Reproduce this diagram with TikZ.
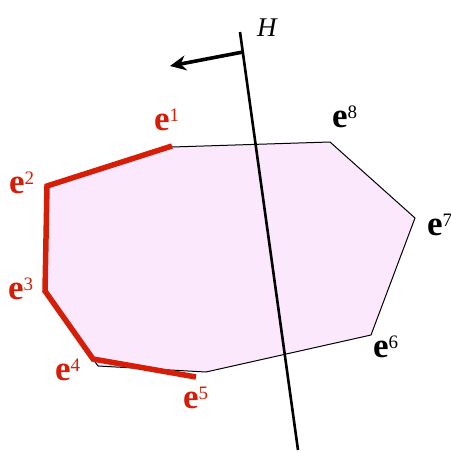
\documentclass[tikz,border=0pt]{standalone}
\usepackage{fontspec}
\setmainfont{Liberation Serif}
\usetikzlibrary{arrows.meta}

\definecolor{facepink}{RGB}{252,232,252}
\definecolor{edgered}{RGB}{212,30,8}

\newcommand{\evec}[1]{{\fontsize{35}{35}\selectfont\bfseries e}{\fontsize{19}{19}\selectfont\raisebox{9pt}{#1}}}

\begin{document}
\begin{tikzpicture}[x=1pt,y=-1pt,>=Stealth,
  lbl/.style={anchor=base west,inner sep=0pt,font=\rmfamily}]
  \useasboundingbox (0,0) rectangle (450,452);

  % Polygon corners
  \coordinate (e1) at (172,147);
  \coordinate (e8) at (330,142);
  \coordinate (e7) at (415,218);
  \coordinate (e6) at (371,335);
  \coordinate (e5) at (206,372);
  \coordinate (e4) at (98,366);
  \coordinate (e3) at (45,292);
  \coordinate (e2) at (46,188);

  % Red edge chain (drawn slightly outside)
  \coordinate (r1) at (172,146);
  \coordinate (r2) at (47,186);
  \coordinate (r3) at (45,291);
  \coordinate (r4) at (93,359);
  \coordinate (r5) at (196,377);

  % Hyperplane
  \coordinate (h0) at (240,32);
  \coordinate (h1) at (298,450);
  \coordinate (hb) at (243,52);
  \coordinate (ht) at (170,66);

  % Polygon
  \filldraw[fill=facepink,draw=black,line width=1pt]
    (e1)--(e8)--(e7)--(e6)--(e5)--(e4)--(e3)--(e2)--cycle;

  % Red edges
  \draw[edgered,line width=5.5pt] (r1)--(r2)--(r3)--(r4)--(r5);

  % H and normal arrow
  \draw[line width=2.6pt] (h0)--(h1);
  \draw[-{Stealth[length=16pt,width=15pt]},line width=3.6pt] (hb)--(ht);
  \node[lbl,font=\fontsize{27}{27}\selectfont\itshape] (hlab) at (257,37) {H};

  % Labels
  \foreach \p/\l/\c in {154/130/1,9/193/2,8/299/3,55/380/4,183/408/5}
    {\node[lbl,text=edgered] at (\p,\l) {\evec{\c}};}
  \foreach \p/\l/\c in {373/357/6,427/235/7,332/127/8}
    {\node[lbl,text=black] at (\p,\l) {\evec{\c}};}
\end{tikzpicture}
\end{document}
